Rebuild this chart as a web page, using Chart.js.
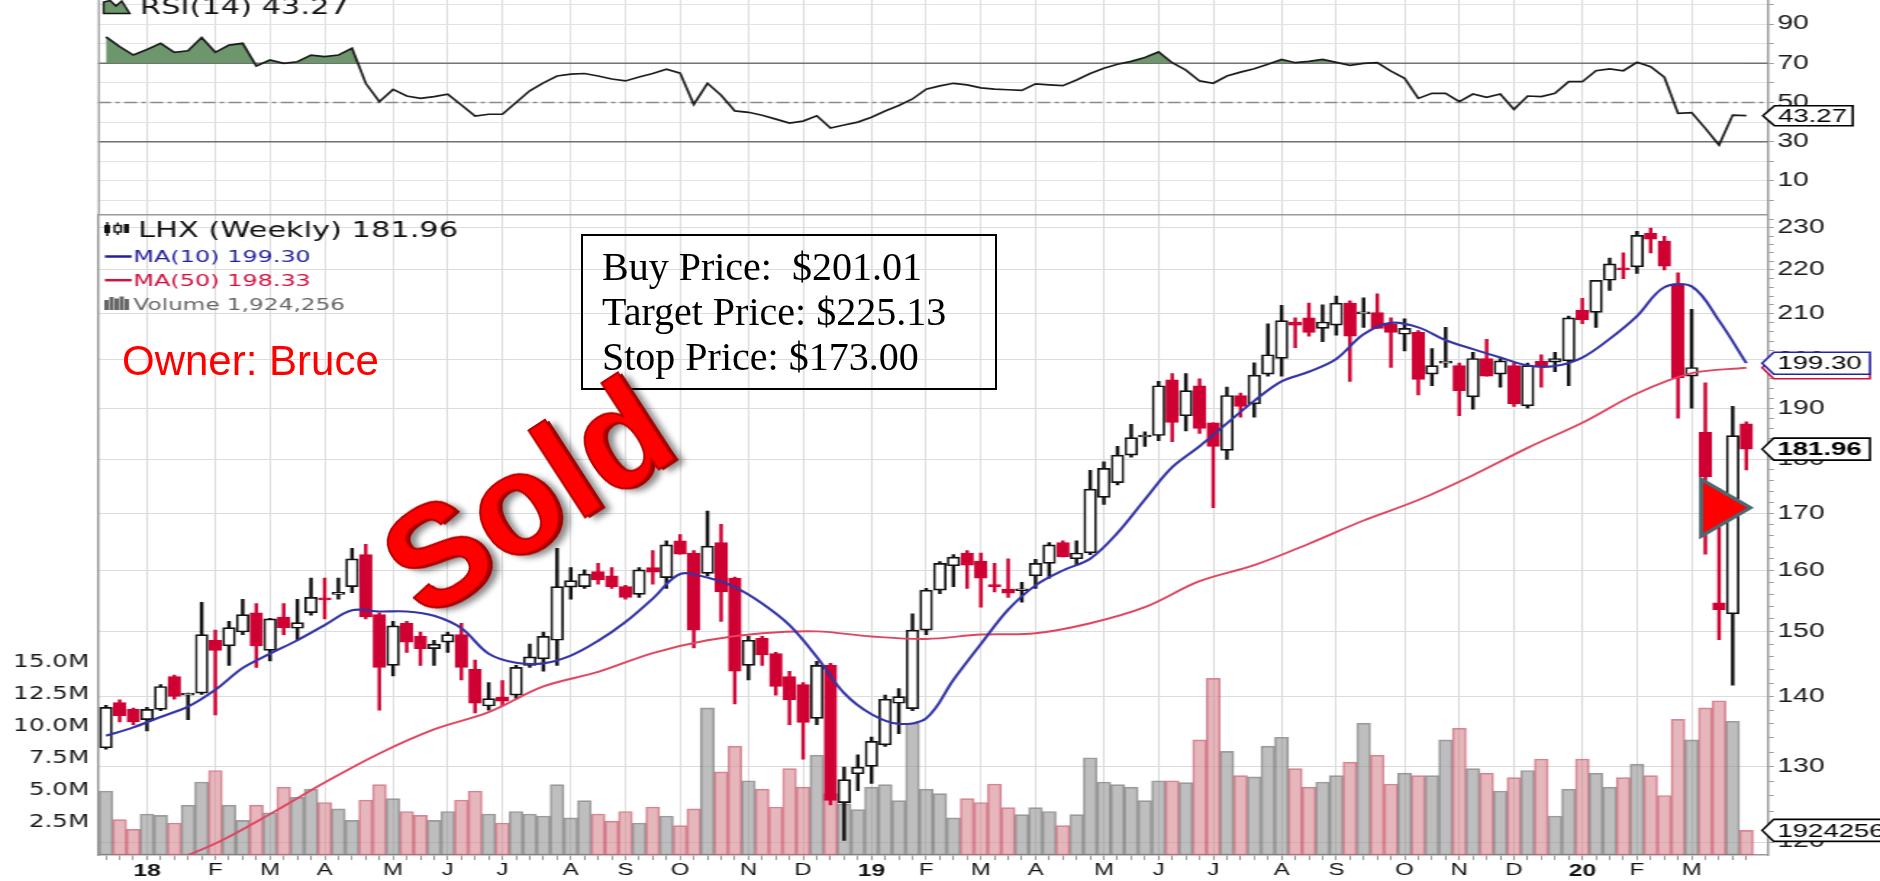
<!DOCTYPE html>
<html lang="en">
<head>
<meta charset="UTF-8">
<title>LHX Weekly</title>
<script src="https://cdn.jsdelivr.net/npm/chart.js@4.4.1/dist/chart.umd.min.js"></script>
<style>
  html, body { margin: 0; padding: 0; background: #fff; }
  #stage { position: relative; width: 1880px; height: 881px; overflow: hidden; }
  /* the whole chart is drawn narrow and stretched sideways, like the source image */
  #stretch { position: absolute; left: 0; top: 0; width: 1297px; height: 881px; transform: scaleX(1.44950); transform-origin: 0 0; }
  #rsi { position: absolute; left: 0; top: 0; }
  #price { position: absolute; left: 0; top: 214px; }
  .owner { position: absolute; left: 122px; top: 340px; font: 42px/42px 'Liberation Sans', Arial, sans-serif; color: #ff0000; white-space: nowrap; }
  .plan { position: absolute; left: 581px; top: 234px; width: 416px; height: 156px; box-sizing: border-box; border: 2px solid #000;
          padding: 8px 0 0 19px; font: 40px/45px 'Liberation Serif', 'Times New Roman', serif; color: #000; white-space: pre; }
  .sold { position: absolute; left: 527px; top: 497px; transform: translate(-50%, -50%) rotate(-33deg);
          font: bold 142px/1 'Liberation Sans', Arial, sans-serif; color: #ff0000; white-space: nowrap;
          -webkit-text-stroke: 2px #b40000; text-shadow: 3px 3px 0 #a00000, 7px 8px 6px rgba(0,0,0,0.45); }
</style>
</head>
<body>
<div id="stage">
  <div id="stretch">
    <canvas id="rsi" width="1297" height="214"></canvas>
    <canvas id="price" width="1297" height="667"></canvas>
  </div>
  <div class="owner">Owner: Bruce</div>
  <div class="plan">Buy Price:  $201.01
Target Price: $225.13
Stop Price: $173.00</div>
  <div class="sold">Sold</div>
</div>
<script>
// weekly bars, index 0 = week of Dec 11 2017
const MONTH_IDX = [3, 8, 12, 16, 21, 25, 29, 34, 38, 42, 47, 51, 56, 60, 64, 68, 73, 77, 81, 86, 90, 95, 99, 103, 108, 112, 116];
const MONTH_LBL = ['18', 'F', 'M', 'A', 'M', 'J', 'J', 'A', 'S', 'O', 'N', 'D', '19', 'F', 'M', 'A', 'M', 'J', 'J', 'A', 'S', 'O', 'N', 'D', '20', 'F', 'M'];

const OPEN = [132.6,139.1,138.1,136.6,138.1,143.0,140.2,140.5,148.6,147.7,
  149.9,153.0,147.0,152.3,150.5,153.0,155.3,156.0,157.3,162.7,
  152.7,144.7,151.3,149.2,147.3,148.3,149.5,144.1,138.6,139.9,
  140.2,144.7,145.7,148.6,157.2,157.3,159.8,159.1,157.3,156.0,
  160.5,158.8,165.1,163.0,159.5,164.8,158.7,144.7,148.9,146.5,
  143.0,141.8,136.8,144.7,125.1,129.0,130.0,133.0,139.0,138.2,
  150.2,156.7,160.8,163.0,161.6,157.6,156.9,156.6,159.1,161.2,
  164.8,162.0,163.0,172.9,175.6,180.8,184.3,184.6,195.8,188.5,
  194.6,187.1,181.7,192.6,190.9,197.0,200.3,208.2,209.1,206.8,
  207.5,212.4,210.0,210.3,207.7,205.5,205.9,197.0,199.3,198.8,
  192.3,200.3,197.0,198.8,190.5,199.7,199.5,199.8,210.8,210.3,
  217.6,220.4,220.7,228.7,226.8,216.7,196.6,185.2,154.6,152.8,
  186.9];
const HIGH = [138.7,139.5,138.3,138.4,141.8,143.2,140.5,154.7,150.2,151.6,
  155.2,154.5,152.1,154.5,155.2,158.7,158.7,158.7,163.8,164.5,
  153.0,151.6,151.6,149.9,148.6,149.9,151.3,145.5,142.1,142.4,
  144.7,148.0,149.9,163.8,160.5,160.1,161.2,160.5,157.5,160.5,
  163.4,165.1,166.2,163.4,170.4,168.0,158.9,149.2,149.2,146.7,
  143.8,142.1,145.3,145.0,129.9,131.6,134.1,140.2,141.2,152.8,
  157.0,161.5,162.7,163.4,163.0,161.2,162.0,158.0,161.9,164.8,
  165.1,165.1,177.9,179.5,182.5,186.8,185.3,195.5,197.1,197.1,
  196.0,187.1,194.3,193.1,199.4,207.8,211.9,209.1,212.4,212.0,
  214.0,212.9,213.6,214.5,209.1,208.9,206.3,202.4,207.0,199.3,
  201.6,204.4,200.3,199.3,199.3,201.1,201.6,209.5,213.5,217.6,
  222.8,224.0,229.2,230.0,228.0,219.3,211.0,195.2,174.5,190.4,
  187.3];
const LOW = [132.4,136.3,135.9,135.0,137.9,139.6,136.6,140.3,137.3,144.7,
  149.5,144.4,145.4,149.5,148.6,152.6,152.0,155.2,156.3,152.0,
  138.0,143.1,146.7,144.7,144.7,146.7,142.5,137.6,138.0,138.6,
  139.6,144.4,143.8,144.7,155.2,157.0,157.7,157.0,155.2,155.5,
  157.7,157.0,162.8,147.4,159.1,151.6,138.9,142.5,144.7,140.2,
  135.9,131.0,135.9,124.8,120.2,126.7,127.7,132.8,134.6,137.9,
  149.5,156.1,157.3,157.0,153.9,156.4,155.5,154.7,157.0,158.7,
  162.3,160.9,162.7,171.6,175.2,180.4,182.5,183.6,183.4,185.5,
  185.0,171.0,180.0,188.2,188.2,196.6,196.6,202.6,205.1,203.9,
  205.3,195.5,207.0,206.8,198.4,201.9,192.7,194.6,198.4,188.5,
  189.8,196.6,194.3,190.4,190.0,194.3,197.5,194.6,207.8,207.0,
  215.3,218.0,219.2,224.0,220.0,188.0,190.0,162.8,148.7,141.7,
  178.0];
const CLOSE = [138.4,137.2,136.3,138.1,141.5,140.0,140.4,149.5,147.0,150.6,
  152.7,147.7,152.0,150.6,151.4,155.5,155.1,156.2,162.0,152.3,
  144.4,150.9,148.3,147.3,148.0,149.5,144.4,139.0,139.7,139.3,
  144.4,146.0,149.2,157.3,158.3,159.4,158.4,157.3,155.5,160.1,
  159.7,164.4,162.8,150.2,164.2,156.4,143.8,148.6,146.3,141.5,
  139.5,136.2,144.7,125.4,128.2,129.9,133.5,139.6,140.0,150.2,
  156.7,161.2,162.3,160.9,158.7,157.3,156.2,156.9,161.2,164.4,
  162.3,163.0,174.4,178.3,180.8,184.2,184.6,194.6,187.2,193.6,
  186.0,182.5,192.6,190.4,196.8,201.1,208.5,207.5,205.9,208.2,
  212.4,205.1,210.2,206.8,205.9,206.8,195.9,198.8,199.5,193.6,
  200.3,196.6,199.8,190.9,198.8,198.8,200.3,209.1,208.7,217.6,
  221.4,220.0,228.2,227.3,220.9,196.2,198.4,176.7,153.5,184.6,
  181.96];
// volume in millions of shares
const VOLUME = [5.0,2.76,2.0,3.2,3.1,2.5,3.9,5.7,6.6,3.9,
  2.7,3.9,3.3,5.3,4.5,5.15,4.1,3.6,2.7,4.3,
  5.5,4.4,3.4,3.1,2.7,3.4,4.3,5.0,3.2,2.5,
  3.4,3.2,3.05,5.5,2.9,4.25,3.2,2.65,3.4,2.5,
  3.75,3.05,2.3,3.6,11.5,6.5,8.5,5.8,5.15,3.75,
  6.75,5.3,7.8,4.8,4.0,3.55,5.3,5.5,4.25,10.3,
  5.15,4.8,2.9,4.4,4.1,5.55,3.7,3.15,3.7,3.4,
  2.3,3.15,7.6,5.7,5.5,5.3,4.25,5.8,5.8,5.65,
  9.0,13.8,8.1,6.2,6.1,8.5,9.2,6.75,5.3,5.7,
  6.2,7.25,10.3,7.8,5.55,6.4,6.2,6.2,9.0,9.9,
  6.75,6.4,5.0,6.05,6.6,7.5,3.05,5.15,7.5,6.4,
  5.3,6.05,7.1,6.2,4.65,10.6,9.0,11.5,12.05,10.45,
  1.924256];
const RSI = [83.5,78.5,74.2,77,80.2,75.6,76.4,83.2,75.6,79.3,
  80.2,68.6,71.7,70,70.8,74.2,73.4,74.2,77.7,59.8,
  50.4,56.7,53.3,52.1,53,54.2,48.7,43.1,44,44,
  50,56,60,63.5,64.5,64.8,63.5,62,61,63,
  64.8,67,65,49,59.8,53.7,45.7,45,43.5,41.5,
  39.5,40.5,43.2,37,38.5,40,42.5,45.7,48.5,51.8,
  56.8,58.5,59.8,59,57.5,56.8,56.5,56.2,59.5,59,
  58.6,61.5,64.8,67.5,69.5,71,73,75.8,70.3,66.5,
  61,59.8,63.5,65.5,67.2,69.5,72,70.3,71,72,
  70.5,69,70,70.3,66,62.3,52.1,54.7,54.7,50.4,
  54.3,52.6,54.3,46.5,53.3,53,54.7,60.6,60.6,66.2,
  67.1,66.2,70.5,68.3,62.9,44.5,44.8,36.8,28.3,43.6,
  43.27];

// moving averages at every 2nd / 4th bar
const MA10_IDX = [0,2,4,6,8,10,12,14,16,18,20,22,24,26,28,30,32,34,36,38,40,42,44,46,48,50,52,54,56,58,
  60,62,64,66,68,70,72,74,76,78,80,82,84,86,88,90,92,94,96,98,100,102,104,106,108,110,112,114,116,118,120];
const MA10 = [134.3,135.5,137,138.5,141,144.3,146.5,148.6,151,153.4,153.2,153.2,152.5,150.5,146.5,145.1,145,146.2,148.5,151.5,
  155.3,159.4,158.8,157.2,154.5,151,146,140.5,137.4,136,136.8,142.5,148,153.5,157.5,160,162,166.5,172.5,178.5,
  182.5,187,191.5,195.5,197.5,200.2,205.5,208,207,204.2,202.3,200.5,198.8,198.7,200.5,204.5,209.5,216,216.2,208.5,
  199.30];
const MA50_IDX = [4,8,12,16,20,24,28,32,36,40,44,48,52,56,60,64,68,72,76,80,84,88,92,96,100,104,108,112,116,120];
const MA50 = [117,119.8,123.6,127.8,131.8,135.2,137.7,141.5,143.7,146.6,148.6,149.7,150,149.2,148.8,149.5,149.7,151.3,153.9,158.2,
  160.9,164.6,168.7,172.4,177,182.2,187.1,193,197.2,198.33];

const PRICE_TICKS = [120, 130, 140, 150, 160, 170, 180, 190, 200, 210, 220, 230];
const RSI_GRID = [0, 10, 20, 30, 40, 50, 60, 70, 80, 90, 100];
const RSI_TICKS = [10, 30, 50, 70, 90];
const RSI_LEVELS = [30, 50, 70];
const VOL_TICKS = [2.5, 5, 7.5, 10, 12.5, 15];
const SIGNAL = { x: 120.3, price: 171 };   // red arrow tip

const RED = '#cf0032';
const X_MIN = -0.585, X_MAX = 121.58;
const LEFT_W = 67.6, RIGHT_W = 77.3;
const SANS = "'Liberation Sans', Arial, sans-serif";
const VERD = "'DejaVu Sans', Verdana, sans-serif";

Chart.defaults.font.family = SANS;

const idx = CLOSE.map((_, i) => i);
const down = i => CLOSE[i] < OPEN[i];

function fitWidth(w) { return s => { s.width = w; s.paddingTop = 0; s.paddingBottom = 0; }; }
function fitHeight(h) { return s => { s.height = h; s.paddingLeft = 0; s.paddingRight = 0; }; }

function tag(ctx, tip, y, w, h, text, stroke, font) {
  ctx.beginPath();
  ctx.moveTo(tip, y);
  ctx.lineTo(tip + 8, y - h / 2);
  ctx.lineTo(tip + w, y - h / 2);
  ctx.lineTo(tip + w, y + h / 2);
  ctx.lineTo(tip + 8, y + h / 2);
  ctx.closePath();
  ctx.fillStyle = '#fff';
  ctx.fill();
  ctx.lineWidth = 1.6;
  ctx.strokeStyle = stroke;
  ctx.stroke();
  ctx.fillStyle = '#000';
  ctx.font = font;
  ctx.textAlign = 'left';
  ctx.textBaseline = 'middle';
  ctx.fillText(text, tip + 10.5, y + 1);
}

const rsiDecor = {
  id: 'rsiDecor',
  beforeDatasetsDraw(chart) {
    const { ctx, chartArea: a, scales: { y } } = chart;
    ctx.save();
    RSI_LEVELS.forEach(v => {
      const py = y.getPixelForValue(v);
      ctx.strokeStyle = v === 50 ? '#8a8a8a' : '#707070';
      ctx.lineWidth = 1.5;
      ctx.setLineDash(v === 50 ? [9, 3, 3, 3] : []);
      ctx.beginPath(); ctx.moveTo(a.left, py); ctx.lineTo(a.right, py); ctx.stroke();
    });
    ctx.setLineDash([]);
    ctx.strokeStyle = '#9a9a9a'; ctx.lineWidth = 1.3;
    ctx.beginPath(); ctx.moveTo(a.left + 0.6, 0); ctx.lineTo(a.left + 0.6, a.bottom); ctx.stroke();
    ctx.restore();
  },
  afterDraw(chart) {
    const { ctx, chartArea: a, scales: { y } } = chart;
    ctx.save();
    // legend
    ctx.beginPath();
    ctx.moveTo(71.5, 13.5); ctx.lineTo(71.5, 2); ctx.lineTo(76, 0.5); ctx.lineTo(80, 6);
    ctx.lineTo(84, 1); ctx.lineTo(89.5, 13.5); ctx.closePath();
    ctx.fillStyle = '#6d966d'; ctx.fill();
    ctx.strokeStyle = '#111'; ctx.lineWidth = 1.4; ctx.stroke();
    ctx.fillStyle = '#111';
    ctx.font = '21px ' + VERD;
    ctx.textBaseline = 'alphabetic';
    ctx.fillText('RSI(14) ' + RSI[RSI.length - 1].toFixed(2), 96.6, 13.5);
    // last value tag
    const last = RSI[RSI.length - 1];
    tag(ctx, a.right - 3.5, y.getPixelForValue(last), 62, 20, last.toFixed(2), '#000', '19px ' + SANS);
    ctx.restore();
  }
};

const priceDecor = {
  id: 'priceDecor',
  afterDraw(chart) {
    const { ctx, chartArea: a, scales: { x, price, vol } } = chart;
    ctx.save();
    ctx.strokeStyle = '#9a9a9a'; ctx.lineWidth = 1.6;
    ctx.beginPath(); ctx.moveTo(a.left, a.top + 0.8); ctx.lineTo(a.right, a.top + 0.8); ctx.stroke();

    // signal arrow
    const tx = x.getPixelForValue(SIGNAL.x), ty = price.getPixelForValue(SIGNAL.price);
    ctx.beginPath();
    ctx.moveTo(tx, ty); ctx.lineTo(tx - 34, ty - 28.5); ctx.lineTo(tx - 34, ty + 28.5); ctx.closePath();
    ctx.fillStyle = '#ff0000'; ctx.fill();
    ctx.lineJoin = 'miter'; ctx.lineWidth = 3; ctx.strokeStyle = '#4e6872'; ctx.stroke();

    // legend block
    ctx.fillStyle = '#111';
    ctx.fillRect(72, 11, 4, 8);
    ctx.fillRect(73.3, 8, 1.4, 14);
    ctx.strokeStyle = '#111'; ctx.lineWidth = 1.4;
    ctx.strokeRect(79, 11.5, 4.5, 6.5);
    ctx.beginPath(); ctx.moveTo(81.2, 8.5); ctx.lineTo(81.2, 11.5); ctx.moveTo(81.2, 18); ctx.lineTo(81.2, 21); ctx.stroke();
    ctx.fillRect(85.5, 10, 3.5, 9);
    ctx.textBaseline = 'alphabetic';
    ctx.textAlign = 'left';
    ctx.font = '21px ' + VERD;
    ctx.fillText('LHX (Weekly) ' + CLOSE[CLOSE.length - 1].toFixed(2), 95.2, 22.7);

    ctx.lineWidth = 2.5;
    ctx.strokeStyle = '#1f1fa0';
    ctx.beginPath(); ctx.moveTo(72.4, 42.5); ctx.lineTo(90.8, 42.5); ctx.stroke();
    ctx.strokeStyle = '#d0103f';
    ctx.beginPath(); ctx.moveTo(72.4, 66.2); ctx.lineTo(90.8, 66.2); ctx.stroke();
    ctx.font = '16.5px ' + VERD;
    ctx.fillStyle = '#1f1fa0';
    ctx.fillText('MA(10) ' + MA10[MA10.length - 1].toFixed(2), 92, 48.3);
    ctx.fillStyle = '#d0103f';
    ctx.fillText('MA(50) ' + MA50[MA50.length - 1].toFixed(2), 92, 72);
    ctx.fillStyle = '#666';
    [[72, 86], [75.5, 83], [79, 84.5], [82.5, 82.5], [86, 85]].forEach(([bx, by]) => ctx.fillRect(bx, by, 3, 96 - by));
    ctx.font = '16px ' + VERD;
    const lastVol = Math.round(VOLUME[VOLUME.length - 1] * 1e6);
    ctx.fillText('Volume ' + lastVol.toLocaleString('en-US'), 92, 96);

    // value tags on the right axis
    const tip = a.right - 4;
    const f = '19px ' + SANS;
    const m50 = MA50[MA50.length - 1], m10 = MA10[MA10.length - 1], cl = CLOSE[CLOSE.length - 1];
    tag(ctx, tip, price.getPixelForValue(m50), 74.4, 22, m50.toFixed(2), '#d0103f', f);
    tag(ctx, tip, price.getPixelForValue(m10), 74.4, 22, m10.toFixed(2), '#2424a8', f);
    tag(ctx, tip, price.getPixelForValue(cl), 74.4, 22, cl.toFixed(2), '#000', 'bold 19px ' + SANS);
    tag(ctx, tip, vol.getPixelForValue(VOLUME[VOLUME.length - 1]), 95, 22, String(lastVol), '#000', f);
    ctx.restore();
  }
};

const common = {
  responsive: false,
  animation: false,
  events: [],
  plugins: { legend: { display: false }, tooltip: { enabled: false } }
};

new Chart(document.getElementById('rsi'), {
  type: 'line',
  data: {
    datasets: [{
      data: RSI.map((v, i) => ({ x: i, y: v })),
      borderColor: '#1c1c1c', borderWidth: 1.7, pointRadius: 0, tension: 0,
      fill: { target: { value: 70 }, above: '#6d966d', below: 'rgba(0,0,0,0)' }
    }]
  },
  options: {
    ...common,
    layout: { padding: { left: LEFT_W, right: 0, top: 0, bottom: 0 } },
    scales: {
      x: {
        type: 'linear', min: X_MIN, max: X_MAX, offset: false,
        afterBuildTicks: s => { s.ticks = MONTH_IDX.map(v => ({ value: v })); },
        afterFit: fitHeight(0),
        ticks: { display: false },
        grid: { color: '#dadada', lineWidth: 1, drawTicks: false },
        border: { display: false }
      },
      y: {
        position: 'right', min: -6.9, max: 102.3,
        afterBuildTicks: s => { s.ticks = RSI_GRID.map(v => ({ value: v })); },
        afterFit: fitWidth(RIGHT_W),
        ticks: { callback: v => RSI_TICKS.includes(v) ? String(v) : '', color: '#1a1a1a', font: { size: 19.5 }, padding: 2.5, autoSkip: false },
        grid: { color: '#e2e2e2', tickColor: '#9a9a9a', tickLength: 4 },
        border: { color: '#9a9a9a', width: 1.5 }
      }
    }
  },
  plugins: [rsiDecor]
});

const priceMinor = [];
for (let v = 120; v <= 232; v += 2) priceMinor.push(v);

new Chart(document.getElementById('price'), {
  type: 'line',
  data: {
    datasets: [
      {
        type: 'line', data: MA10_IDX.map((x, k) => ({ x, y: MA10[k] })), yAxisID: 'price',
        borderColor: '#3434a6', borderWidth: 2.1, pointRadius: 0, tension: 0.35, order: 0
      },
      {
        type: 'line', data: MA50_IDX.map((x, k) => ({ x, y: MA50[k] })), yAxisID: 'price',
        borderColor: '#e04560', borderWidth: 1.9, pointRadius: 0, tension: 0.35, order: 1
      },
      {
        type: 'bar', data: idx.map(i => ({ x: i, y: [OPEN[i], CLOSE[i]] })), yAxisID: 'price',
        barThickness: 8.6, grouped: false, borderSkipped: false, minBarLength: 2,
        backgroundColor: c => down(c.dataIndex) ? RED : '#fff',
        borderColor: c => down(c.dataIndex) ? RED : '#111',
        borderWidth: 1.7, order: 2
      },
      {
        type: 'bar', data: idx.map(i => ({ x: i, y: [LOW[i], HIGH[i]] })), yAxisID: 'price',
        barThickness: 1.8, grouped: false,
        backgroundColor: c => down(c.dataIndex) ? RED : '#111',
        borderWidth: 0, order: 3
      },
      {
        type: 'bar', data: idx.map(i => ({ x: i, y: VOLUME[i] })), yAxisID: 'vol',
        barThickness: 9.43, grouped: false, borderSkipped: false,
        backgroundColor: c => down(c.dataIndex) ? 'rgba(215,137,149,0.62)' : 'rgba(150,150,150,0.62)',
        borderColor: c => down(c.dataIndex) ? 'rgba(200,80,100,0.7)' : 'rgba(115,115,115,0.7)',
        borderWidth: 1, order: 4
      }
    ]
  },
  options: {
    ...common,
    layout: { padding: 0 },
    scales: {
      x: {
        type: 'linear', min: X_MIN, max: X_MAX, offset: false,
        afterBuildTicks: s => { s.ticks = idx.map(v => ({ value: v })); },
        afterFit: fitHeight(26),
        ticks: {
          autoSkip: false, maxRotation: 0, minRotation: 0, padding: 1, color: '#111',
          callback: v => { const k = MONTH_IDX.indexOf(v); return k < 0 ? '' : MONTH_LBL[k]; },
          font: c => {
            const k = MONTH_IDX.indexOf(c.tick && c.tick.value);
            const yr = k >= 0 && /\d/.test(MONTH_LBL[k]);
            return { family: SANS, size: yr ? 17 : 16.5, weight: yr ? 'bold' : 'normal' };
          }
        },
        grid: {
          color: c => MONTH_IDX.includes(c.tick && c.tick.value) ? '#d8d8d8' : 'rgba(0,0,0,0)',
          tickColor: '#8f8f8f', tickLength: 5, offset: false
        },
        border: { color: '#9a9a9a', width: 1.6 }
      },
      price: {
        axis: 'y', type: 'logarithmic', position: 'right', min: 118.36, max: 233.43,
        afterBuildTicks: s => { s.ticks = priceMinor.map(v => ({ value: v })); },
        afterFit: fitWidth(RIGHT_W),
        ticks: {
          autoSkip: false, color: '#1a1a1a', font: { size: 19.5 }, padding: 2.5,
          callback: v => PRICE_TICKS.includes(v) ? String(v) : ''
        },
        grid: {
          color: c => PRICE_TICKS.includes(c.tick && c.tick.value) ? '#dcdcdc' : 'rgba(0,0,0,0)',
          tickColor: '#9a9a9a', tickLength: 4
        },
        border: { color: '#9a9a9a', width: 1.5 }
      },
      vol: {
        axis: 'y', type: 'linear', position: 'left', min: 0, max: 50.08,
        afterBuildTicks: s => { s.ticks = VOL_TICKS.map(v => ({ value: v })); },
        afterFit: fitWidth(LEFT_W),
        ticks: { autoSkip: false, color: '#1a1a1a', font: { family: VERD, size: 17 }, padding: 6, callback: v => v.toFixed(1) + 'M' },
        grid: { display: false, drawTicks: false },
        border: { color: '#9a9a9a', width: 1.5 }
      }
    }
  },
  plugins: [priceDecor]
});
</script>
</body>
</html>
